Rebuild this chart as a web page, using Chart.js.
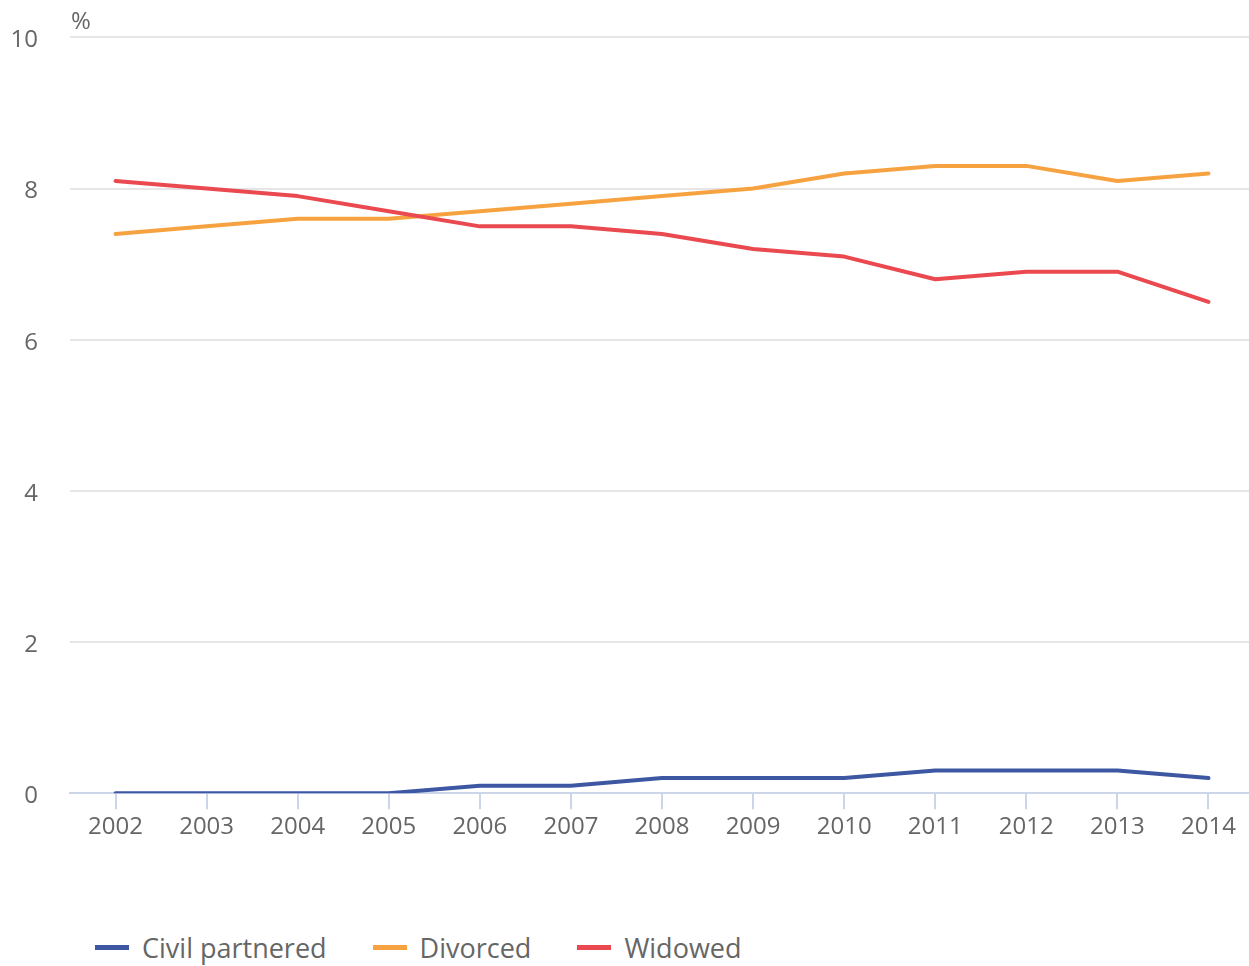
<!DOCTYPE html>
<html>
<head>
<meta charset="utf-8">
<script src="https://cdn.jsdelivr.net/npm/chart.js@4"></script>
<style>
body{margin:0;background:#fff;font-family:"Open Sans",sans-serif;overflow:hidden;}
#wrap{position:relative;width:1249px;height:966px;overflow:hidden;}
#box{position:absolute;left:0;top:-9px;width:1254px;height:855px;}
#legend{position:absolute;left:95px;top:929px;display:flex;align-items:center;font-size:27px;color:#666;}
#legend .item{display:flex;align-items:center;margin-right:46px;}
#legend .mark{display:inline-block;width:34px;height:5px;margin-right:13px;}
</style>
</head>
<body>
<div id="wrap">
<div id="box"><canvas id="chart"></canvas></div>
<div id="legend"></div>
</div>
<script>

const years=["2002","2003","2004","2005","2006","2007","2008","2009","2010","2011","2012","2013","2014"];
const civilPartnered=[0,0,0,0,0.1,0.1,0.2,0.2,0.2,0.3,0.3,0.3,0.2];
const divorced=[7.4,7.5,7.6,7.6,7.7,7.8,7.9,8.0,8.2,8.3,8.3,8.1,8.2];
const widowed=[8.1,8.0,7.9,7.7,7.5,7.5,7.4,7.2,7.1,6.8,6.9,6.9,6.5];
const yTicks=[0,2,4,6,8,10];

const seriesNames=["Civil partnered","Divorced","Widowed"];
const seriesColors=["#3d57a3","#f7a241","#e9494f"];

let legend=document.getElementById("legend");
seriesNames.forEach((n,i)=>{
let item=document.createElement("span");
item.className="item";
item.innerHTML='<span class="mark" style="background:'+seriesColors[i]+'"></span>'+n;
legend.appendChild(item);
});

// "%" unit label above the y axis
const percentLabel={
id:"percentLabel",
afterDraw(chart){
let c=chart.ctx;
c.save();
c.font='24px "Open Sans"';
c.fillStyle="#666";
c.textBaseline="alphabetic";
c.fillText("%",chart.chartArea.left+1,38);
c.restore();
}
};

new Chart(document.getElementById("chart"),{
type:"line",
data:{
labels:years,
datasets:[
{label:seriesNames[0],data:civilPartnered,borderColor:seriesColors[0],backgroundColor:seriesColors[0],order:2},
{label:seriesNames[1],data:divorced,borderColor:seriesColors[1],backgroundColor:seriesColors[1],order:1},
{label:seriesNames[2],data:widowed,borderColor:seriesColors[2],backgroundColor:seriesColors[2],order:0}
]
},
options:{
responsive:true,
maintainAspectRatio:false,
animation:false,
elements:{
line:{borderWidth:4,tension:0,borderCapStyle:"round",borderJoinStyle:"round"},
point:{radius:0,hoverRadius:0}
},
layout:{padding:{top:4,left:8,right:0,bottom:0}},
plugins:{
legend:{display:false},
tooltip:{enabled:false}
},
scales:{
x:{
offset:true,
border:{display:true,color:"#ccd6eb",width:2},
grid:{drawOnChartArea:false,drawTicks:true,tickLength:16,color:"#ccd6eb",lineWidth:2},
ticks:{color:"#666",font:{family:"Open Sans",size:24},padding:4,maxRotation:0}
},
y:{
min:0,
max:10,
afterBuildTicks(scale){scale.ticks=yTicks.map(v=>({value:v}));},
afterFit(scale){scale.width=62;},
border:{display:false},
grid:{color:"#e6e6e6",lineWidth:2,drawTicks:false},
ticks:{color:"#666",font:{family:"Open Sans",size:24},padding:32,labelOffset:3}
}
}
},
plugins:[percentLabel]
});

</script>
</body>
</html>
